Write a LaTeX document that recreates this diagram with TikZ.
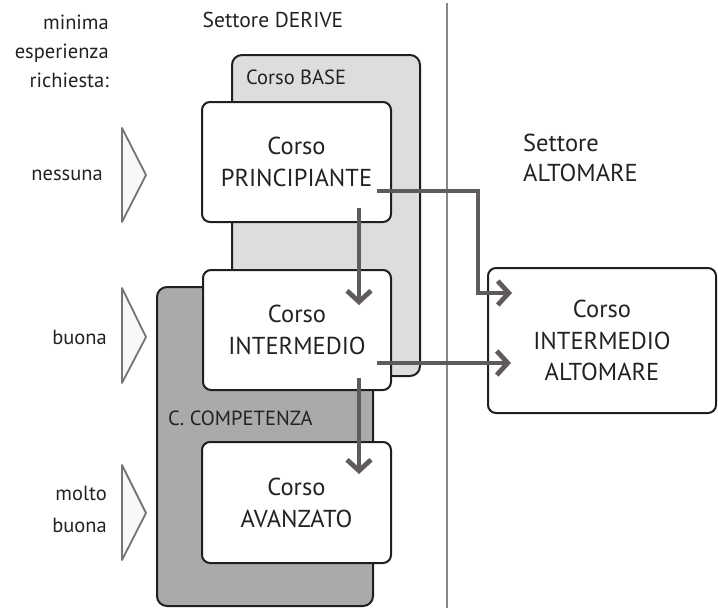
\documentclass[tikz,border=0pt]{standalone}
\usepackage{fontspec}
\setmainfont{PT Sans}
\usetikzlibrary{arrows.meta,calc}
\definecolor{txt}{HTML}{222222}
\definecolor{baseg}{HTML}{DDDDDD}
\definecolor{compg}{HTML}{AAAAAA}
\definecolor{flowg}{HTML}{5F5B5B}
\definecolor{divg}{HTML}{888888}
\definecolor{trig}{HTML}{747474}
\definecolor{trif}{HTML}{F8F8F8}
\begin{document}
\begin{tikzpicture}[x=1pt,y=-1pt,
  every node/.style={text=txt, font=\fontsize{20.5}{32}\selectfont, inner sep=0pt},
  box/.style={draw=black!88, line width=2pt, fill=white, rounded corners=8pt, align=center, font=\fontsize{24.5}{32}\selectfont},
  panel/.style={draw=black!88, line width=2pt, rounded corners=10pt},
  lbl/.style={align=right, anchor=east},
  flow/.style={draw=flowg, line width=4.8pt, -{Straight Barb[length=11pt,width=24pt]}},
  entry/.style={draw=trig, line width=1.8pt, fill=trif, line join=round}]
\useasboundingbox (0,0) rectangle (718,608);

% divider
\draw[divg, line width=1.6pt] (447,3) -- (447,608);

% headers
\node[align=right, anchor=east, font=\fontsize{20.5}{29}\selectfont] (hdr) at (109,51) {minima\\esperienza\\richiesta:};
\node[font=\fontsize{21.5}{26}\selectfont] (deriv) at (273,20) {Settore DERIVE};
\node[align=left, anchor=west, font=\fontsize{24.5}{30}\selectfont] (altom) at (523,158) {Settore\\ALTOMARE};

% panels
\node[panel, fill=baseg, minimum width=188pt, minimum height=321pt] (base) at (326,215.5) {};
\node[panel, fill=compg, minimum width=216pt, minimum height=319pt] (comp) at (265,446.5) {};
\node[anchor=west] (basel) at (246,77) {Corso BASE};
\node[anchor=west] (compl) at (168,418) {C. COMPETENZA};

% course boxes
\node[box, minimum width=189pt, minimum height=120pt] (pri) at (296.5,162) {Corso\\PRINCIPIANTE};
\node[box, minimum width=188pt, minimum height=120pt] (int) at (297,330) {Corso\\INTERMEDIO};
\node[box, minimum width=189pt, minimum height=121pt] (ava) at (296.5,502.5) {Corso\\AVANZATO};
\node[box, minimum width=228pt, minimum height=145pt, font=\fontsize{24.5}{31.5}\selectfont] (alt) at (602,340.5) {Corso\\INTERMEDIO\\ALTOMARE};

% entry triangles and labels
\draw[entry] (122,128) -- (146,175) -- (122,222) -- cycle;
\draw[entry] (122,288) -- (146,337) -- (122,383) -- cycle;
\draw[entry] (122,465) -- (146,513) -- (122,560) -- cycle;
\node[lbl] (l1) at (103,175) {nessuna};
\node[lbl] (l2) at (107,337) {buona};
\node[lbl] (l3) at (107,509) {molto\\buona};

% connectors
\coordinate (a1s) at ($(pri.south east)+(-33,-15)$);
\coordinate (a1e) at ($(int.north east)+(-33,36)$);
\coordinate (a2s) at ($(pri.east)+(-15,29)$);
\coordinate (a2b) at (478,191);
\coordinate (a2e) at ($(alt.west)+(25,-47.5)$);
\coordinate (a3s) at ($(int.east)+(-15,33)$);
\coordinate (a3e) at ($(alt.west)+(24,22.5)$);
\coordinate (a4s) at ($(int.south east)+(-33,-13)$);
\coordinate (a4e) at ($(ava.north east)+(-33,33)$);
\draw[flow] (a1s) -- (a1e);
\draw[flow] (a2s) -- (a2b) |- (a2e);
\draw[flow] (a3s) -- (a3e);
\draw[flow] (a4s) -- (a4e);
\end{tikzpicture}
\end{document}
